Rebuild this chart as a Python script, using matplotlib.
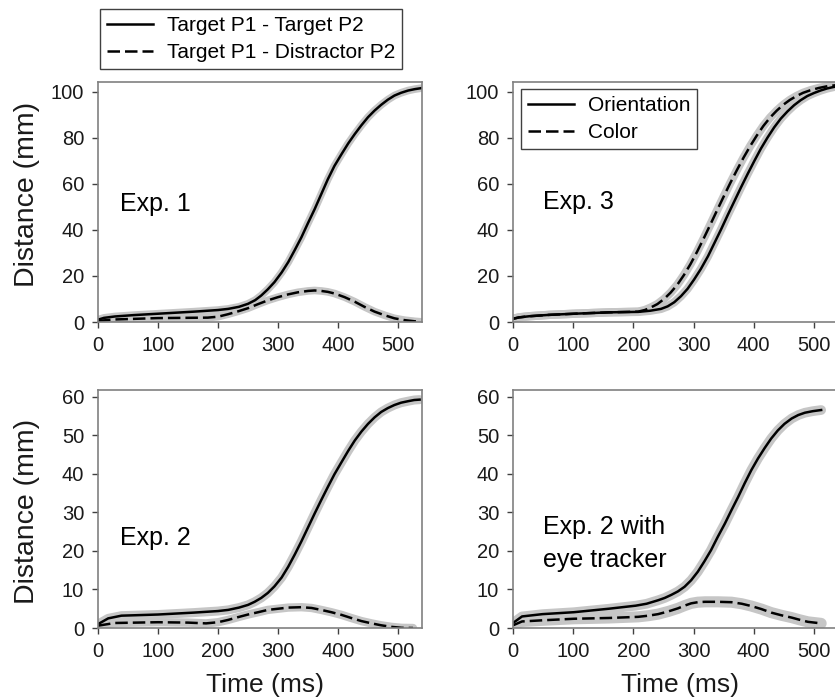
import matplotlib
matplotlib.use("Agg")
import matplotlib.pyplot as plt
import numpy as np

plt.rcParams['font.family'] = ['Liberation Sans', 'DejaVu Sans']

# ---------------- data ----------------
# Exp. 1
e1_tt_t = [0, 10, 28, 60, 100, 160, 200, 217, 235, 250, 262, 272, 283, 294, 306, 317, 328, 339, 350,
           361, 372, 383, 394, 406, 417, 428, 439, 450, 461, 472, 483, 494, 505, 517, 528, 538]
e1_tt_d = [1.0, 1.8, 2.4, 3.0, 3.6, 4.5, 5.2, 5.7, 6.6, 7.9, 9.5, 11.5, 14.2, 17.3, 21.5, 26, 31.3, 36.8, 43,
           49, 55.5, 62, 67.8, 73, 77.6, 81.7, 85.5, 89, 91.9, 94.4, 96.6, 98.4, 99.6, 100.6, 101.2, 101.6]
e1_td_t = [0, 28, 100, 183, 200, 217, 233, 250, 267, 283, 300, 317, 333, 350, 361, 372, 383, 394,
           411, 428, 444, 461, 478, 494, 511, 528, 538]
e1_td_d = [0.5, 1.1, 1.7, 1.9, 2.3, 3.4, 4.6, 6.0, 7.8, 9.4, 10.8, 12.0, 12.9, 13.5, 13.7, 13.5, 13.1, 12.4,
           10.8, 8.8, 6.6, 4.5, 2.9, 1.6, 0.8, 0.3, 0.1]

# Exp. 3
e3_or_t = [0, 10, 27, 60, 102, 160, 208, 228, 246, 257, 268, 279, 290, 301, 312, 324, 335, 346, 357,
           368, 379, 390, 401, 412, 423, 434, 445, 456, 467, 478, 489, 500, 511, 522, 532, 540]
e3_or_d = [1.4, 2.0, 2.5, 3.1, 3.6, 4.2, 4.4, 4.9, 5.7, 6.8, 8.6, 11.2, 14.4, 18.5, 23, 28.6, 34.5, 40.4, 46.6,
           52.6, 58.6, 64.4, 70, 75.4, 80.2, 84.6, 88.4, 91.5, 94.2, 96.4, 98.2, 99.5, 100.6, 101.5, 102.1, 102.5]
e3_co_t = [0, 10, 27, 60, 102, 160, 208, 219, 229, 240, 251, 262, 273, 284, 295, 306, 317, 328, 339,
           350, 361, 372, 383, 394, 405, 416, 427, 438, 449, 460, 471, 482, 494, 508, 523, 540]
e3_co_d = [1.4, 2.0, 2.5, 3.1, 3.6, 4.2, 4.5, 5.2, 6.3, 7.8, 10.0, 12.8, 16.2, 20.4, 25.2, 30.6, 36.4, 42.4, 48.5,
           54.5, 60.4, 66, 71.4, 76.4, 81, 85.2, 88.8, 91.8, 94.4, 96.5, 98.2, 99.6, 100.7, 101.7, 102.5, 103]

# Exp. 2
e2_tt_t = [0, 17, 39, 100, 160, 200, 217, 235, 250, 261, 272, 283, 294, 306, 317, 328, 339, 350,
           361, 372, 383, 394, 406, 417, 428, 439, 450, 461, 472, 483, 494, 505, 517, 527, 536]
e2_tt_d = [1.0, 2.5, 3.2, 3.5, 4.0, 4.4, 4.7, 5.3, 6.0, 6.8, 7.8, 9.1, 10.8, 13.1, 15.9, 19.1, 22.5, 26.1,
           29.7, 33.2, 36.6, 39.9, 43.1, 46, 48.7, 51, 53, 54.7, 56.1, 57.1, 57.9, 58.5, 58.9, 59.2, 59.3]
e2_td_t = [0, 28, 100, 150, 180, 200, 217, 233, 250, 267, 283, 300, 317, 339, 356, 372, 389, 406,
           422, 439, 456, 472, 489, 506, 525]
e2_td_d = [0.6, 1.3, 1.5, 1.4, 1.2, 1.5, 2.1, 2.8, 3.5, 4.1, 4.7, 5.0, 5.3, 5.4, 5.2, 4.7, 4.1, 3.4,
           2.6, 1.8, 1.2, 0.7, 0.3, 0.05, 0.0]

# Exp. 2 with eye tracker
e2e_tt_t = [0, 15, 49, 101, 159, 204, 222, 241, 252, 263, 274, 285, 296, 307, 318, 329, 340, 352,
            363, 374, 385, 396, 407, 418, 429, 440, 451, 463, 474, 485, 498, 512]
e2e_tt_d = [1.3, 3.0, 3.6, 4.1, 5.0, 5.8, 6.3, 7.2, 7.8, 8.6, 9.5, 10.7, 12.4, 14.6, 17.3, 20.2, 23.6, 27.1,
            30.6, 34, 37.6, 41, 44, 46.7, 49.2, 51.3, 53, 54.4, 55.3, 55.9, 56.3, 56.6]
e2e_td_t = [0, 15, 49, 101, 159, 208, 225, 241, 258, 274, 285, 296, 307, 319, 341, 363, 380, 396,
            413, 429, 446, 463, 477, 490, 512]
e2e_td_d = [0.7, 1.7, 2.0, 2.4, 2.6, 2.9, 3.2, 3.6, 4.3, 5.1, 5.8, 6.4, 6.7, 6.8, 6.8, 6.7, 6.3, 5.7,
            4.9, 4.0, 3.3, 2.7, 2.1, 1.6, 1.2]

xticks = [0, 100, 200, 300, 400, 500]
yticks_top = [0, 20, 40, 60, 80, 100]
yticks_bot = [0, 10, 20, 30, 40, 50, 60]

leg1_labels = ["Target P1 - Target P2", "Target P1 - Distractor P2"]
leg3_labels = ["Orientation", "Color"]
panel_labels = ["Exp. 1", "Exp. 3", "Exp. 2", "Exp. 2 with\neye tracker"]

# ---------------- figure ----------------
W, H = 835, 698
fig = plt.figure(figsize=(W / 100, H / 100), dpi=100)

def ax_at(l, r, t, b):
    return fig.add_axes([l / W, 1 - b / H, (r - l) / W, (b - t) / H])

axTL = ax_at(98, 422, 82, 322)
axTR = ax_at(513, 838, 82, 322)
axBL = ax_at(98, 422, 390, 628)
axBR = ax_at(513, 838, 390, 628)

BAND = '#c6c6c6'
LW = 1.8
DASH = (5, 2)

def draw(ax, t, d, band_w, dashed):
    # grey confidence band drawn as a wide soft stroke under the mean line
    ax.plot(t, d, color=BAND, lw=band_w, solid_capstyle='round',
            solid_joinstyle='round', zorder=1)
    ls = (0, DASH) if dashed else '-'
    ln, = ax.plot(t, d, color='black', lw=LW, ls=ls, zorder=3,
                  solid_joinstyle='round', dash_joinstyle='round')
    return ln

def style(ax, yticks, ymax):
    ax.set_xlim(0, 540)
    ax.set_ylim(0, ymax)
    ax.set_xticks(xticks)
    ax.set_yticks(yticks)
    for s in ax.spines.values():
        s.set_color('#808080')
        s.set_linewidth(1.2)
        s.set_zorder(5)
    ax.tick_params(direction='out', length=4, width=1, color='#404040',
                   labelsize=14.5, pad=6)
    for lab in ax.get_xticklabels() + ax.get_yticklabels():
        lab.set_color('#1a1a1a')

# Exp. 1
l1 = draw(axTL, e1_tt_t, e1_tt_d, 5.5, False)
l2 = draw(axTL, e1_td_t, e1_td_d, 5.5, True)
style(axTL, yticks_top, 104.3)

# Exp. 3
l3 = draw(axTR, e3_or_t, e3_or_d, 6.0, False)
l4 = draw(axTR, e3_co_t, e3_co_d, 6.0, True)
style(axTR, yticks_top, 104.3)

# Exp. 2
draw(axBL, e2_tt_t, e2_tt_d, 6.5, False)
draw(axBL, e2_td_t, e2_td_d, 6.0, True)
style(axBL, yticks_bot, 61.8)

# Exp. 2 eye tracker
draw(axBR, e2e_tt_t, e2e_tt_d, 7.0, False)
draw(axBR, e2e_td_t, e2e_td_d, 8.0, True)
style(axBR, yticks_bot, 61.8)

# axis labels
for ax in (axTL, axBL):
    ax.set_ylabel("Distance (mm)", fontsize=20.5, color='#1a1a1a')
axTL.yaxis.set_label_coords(-0.178, 0.53)
axBL.yaxis.set_label_coords(-0.178, 0.49)
for ax in (axBL, axBR):
    ax.set_xlabel("Time (ms)", fontsize=19, color='#1a1a1a')
    ax.xaxis.set_label_coords(0.515, -0.19)

# panel texts
axTL.text(0.068, 0.49, panel_labels[0], transform=axTL.transAxes, fontsize=18,
          va='center', ha='left')
axTR.text(0.092, 0.50, panel_labels[1], transform=axTR.transAxes, fontsize=18,
          va='center', ha='left')
axBL.text(0.068, 0.38, panel_labels[2], transform=axBL.transAxes, fontsize=18,
          va='center', ha='left')
axBR.text(0.092, 0.355, panel_labels[3], transform=axBR.transAxes, fontsize=18,
          va='center', ha='left', linespacing=1.45)

# legends
leg_kw = dict(fontsize=15, frameon=True, fancybox=False, edgecolor='#404040',
              handlelength=2.2, handletextpad=0.65, borderpad=0.35,
              labelspacing=0.36, borderaxespad=0, framealpha=1)
lg1 = fig.legend([l1, l2], leg1_labels, loc='upper left',
                 bbox_to_anchor=(100 / W, 1 - 9 / H), **leg_kw)
lg1.get_frame().set_linewidth(1.0)

lg3 = axTR.legend([l3, l4], leg3_labels, loc='upper left',
                  bbox_to_anchor=(8 / 325, 1 - 7 / 240), **leg_kw)
lg3.get_frame().set_linewidth(1.0)
lg3.set_zorder(6)

fig.savefig("out.png", dpi=100)
